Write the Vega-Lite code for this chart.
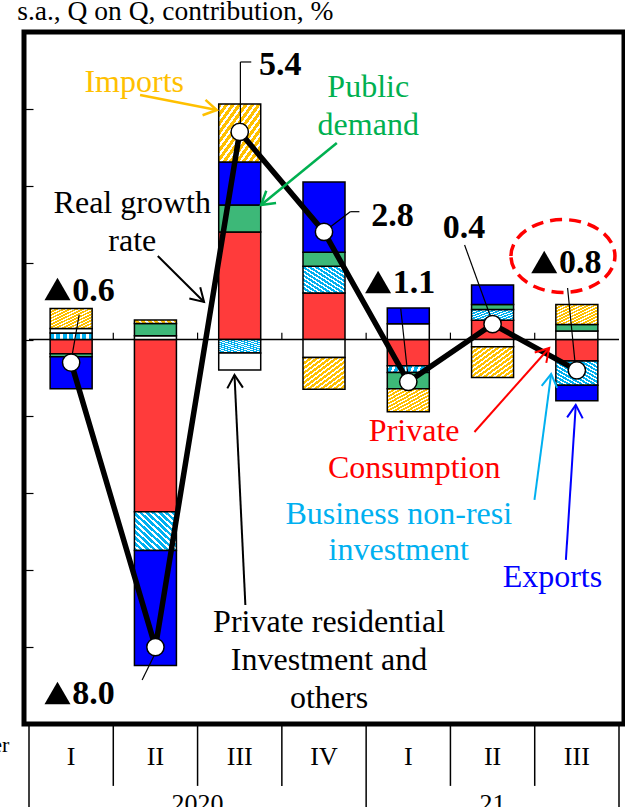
{
"$schema":"https://vega.github.io/schema/vega-lite/v6.json",
"width":600,"height":692,
"autosize":{"type":"none"},
"padding":{"left":24,"top":32,"right":1,"bottom":83},
"background":"white",
"config":{"view":{"stroke":"black","strokeWidth":5},"text":{"font":"Liberation Serif"}},
"datasets":{
"contrib":[
{"n":1,"c":"Consumption","v":-0.37},{"n":1,"c":"Business","v":0.17},{"n":1,"c":"Residential","v":0.12},{"n":1,"c":"Public","v":-0.08},{"n":1,"c":"Exports","v":-0.83},{"n":1,"c":"Imports","v":0.52},
{"n":2,"c":"Consumption","v":-4.48},{"n":2,"c":"Business","v":-1.01},{"n":2,"c":"Residential","v":0.1},{"n":2,"c":"Public","v":0.32},{"n":2,"c":"Exports","v":-2.99},{"n":2,"c":"Imports","v":0.09},
{"n":3,"c":"Consumption","v":2.8},{"n":3,"c":"Business","v":-0.35},{"n":3,"c":"Residential","v":-0.44},{"n":3,"c":"Public","v":0.7},{"n":3,"c":"Exports","v":1.12},{"n":3,"c":"Imports","v":1.51},
{"n":4,"c":"Consumption","v":1.21},{"n":4,"c":"Business","v":0.7},{"n":4,"c":"Residential","v":-0.47},{"n":4,"c":"Public","v":0.36},{"n":4,"c":"Exports","v":1.83},{"n":4,"c":"Imports","v":-0.82},
{"n":5,"c":"Consumption","v":-0.68},{"n":5,"c":"Business","v":-0.18},{"n":5,"c":"Residential","v":0.41},{"n":5,"c":"Public","v":-0.42},{"n":5,"c":"Exports","v":0.41},{"n":5,"c":"Imports","v":-0.6},
{"n":6,"c":"Consumption","v":0.5},{"n":6,"c":"Business","v":0.28},{"n":6,"c":"Residential","v":-0.19},{"n":6,"c":"Public","v":0.13},{"n":6,"c":"Exports","v":0.51},{"n":6,"c":"Imports","v":-0.8},
{"n":7,"c":"Consumption","v":-0.56},{"n":7,"c":"Business","v":-0.63},{"n":7,"c":"Residential","v":0.22},{"n":7,"c":"Public","v":0.17},{"n":7,"c":"Exports","v":-0.4},{"n":7,"c":"Imports","v":0.52}
],
"growth":[
{"n":1,"q":"I","g":-0.6},{"n":2,"q":"II","g":-8.0},{"n":3,"q":"III","g":5.4},{"n":4,"q":"IV","g":2.8},{"n":5,"q":"I","g":-1.1},{"n":6,"q":"II","g":0.4},{"n":7,"q":"III","g":-0.8}
]
},
"layer":[
{"data":{"name":"growth"},"transform":[{"calculate":"datum.n+0.5","as":"b"}],
 "mark":{"type":"rule","stroke":"black","strokeWidth":1.5},
 "encoding":{"x":{"field":"b","type":"quantitative","scale":{"domain":[0.5,7.5],"nice":false,"zero":false},"axis":null},
  "y":{"datum":-10,"type":"quantitative","scale":{"domain":[-10,8],"nice":false,"zero":false},"axis":{"orient":"left","offset":-9,"tickSize":9,"labels":false,"domain":false,"grid":false,"values":[-8,-6,-4,-2,0,2,4,6],"tickColor":"black","tickWidth":1.2,"title":null}},
  "y2":{"datum":-11.61}}},
{"data":{"name":"growth"},"transform":[{"calculate":"datum.n+0.5","as":"b"},{"filter":"datum.n==4||datum.n==7"}],
 "mark":{"type":"rule","stroke":"black","strokeWidth":1.5},
 "encoding":{"x":{"field":"b","type":"quantitative"},"y":{"datum":-11.61,"type":"quantitative"},"y2":{"datum":-12.6}}},
{"data":{"values":[{}]},"mark":{"type":"rule","stroke":"black","strokeWidth":1.5},
 "encoding":{"x":{"datum":0.5,"type":"quantitative"},"y":{"datum":-10,"type":"quantitative"},"y2":{"datum":-12.6}}},
{"data":{"values":[{}]},"mark":{"type":"rule","stroke":"black","strokeWidth":1.5},
 "encoding":{"x":{"datum":0.5,"type":"quantitative"},"x2":{"datum":7.5},"y":{"datum":0,"type":"quantitative"}}},
{"data":{"name":"growth"},"transform":[{"calculate":"datum.n+0.5","as":"b"},{"filter":"datum.n<7"}],
 "mark":{"type":"rule","stroke":"black","strokeWidth":1.2},
 "encoding":{"x":{"field":"b","type":"quantitative"},"y":{"datum":0,"type":"quantitative"},"y2":{"datum":0.18}}},
{"data":{"name":"contrib"},
 "transform":[{"calculate":"indexof(['Consumption','Business','Residential','Public','Exports','Imports'], datum.c)","as":"o"},{"stack":"v","groupby":["n"],"sort":[{"field":"o","order":"ascending"}],"as":["v0","v1"]}],
 "layer":[
 {"transform":[{"filter":"datum.c==='Consumption'"}],"mark":{"type":"bar","width":42,"fill":"#FF3B3B","stroke":"black","strokeWidth":1.5},
  "encoding":{"x":{"field":"n","type":"quantitative"},"y":{"field":"v0","type":"quantitative"},"y2":{"field":"v1"}}},
 {"transform":[{"filter":"datum.c==='Business'"}],"mark":{"type":"bar","width":42,"stroke":"black","strokeWidth":1.5,
  "fill":{"gradient":"linear","x1":0,"y1":1,"x2":1,"y2":0,"stops":[
  {"offset":0,"color":"#00B0F0"},{"offset":0.0462,"color":"#00B0F0"},{"offset":0.0462,"color":"white"},{"offset":0.0769,"color":"white"},
  {"offset":0.0769,"color":"#00B0F0"},{"offset":0.1231,"color":"#00B0F0"},{"offset":0.1231,"color":"white"},{"offset":0.1538,"color":"white"},
  {"offset":0.1538,"color":"#00B0F0"},{"offset":0.2,"color":"#00B0F0"},{"offset":0.2,"color":"white"},{"offset":0.2308,"color":"white"},
  {"offset":0.2308,"color":"#00B0F0"},{"offset":0.2769,"color":"#00B0F0"},{"offset":0.2769,"color":"white"},{"offset":0.3077,"color":"white"},
  {"offset":0.3077,"color":"#00B0F0"},{"offset":0.3538,"color":"#00B0F0"},{"offset":0.3538,"color":"white"},{"offset":0.3846,"color":"white"},
  {"offset":0.3846,"color":"#00B0F0"},{"offset":0.4308,"color":"#00B0F0"},{"offset":0.4308,"color":"white"},{"offset":0.4615,"color":"white"},
  {"offset":0.4615,"color":"#00B0F0"},{"offset":0.5077,"color":"#00B0F0"},{"offset":0.5077,"color":"white"},{"offset":0.5385,"color":"white"},
  {"offset":0.5385,"color":"#00B0F0"},{"offset":0.5846,"color":"#00B0F0"},{"offset":0.5846,"color":"white"},{"offset":0.6154,"color":"white"},
  {"offset":0.6154,"color":"#00B0F0"},{"offset":0.6615,"color":"#00B0F0"},{"offset":0.6615,"color":"white"},{"offset":0.6923,"color":"white"},
  {"offset":0.6923,"color":"#00B0F0"},{"offset":0.7385,"color":"#00B0F0"},{"offset":0.7385,"color":"white"},{"offset":0.7692,"color":"white"},
  {"offset":0.7692,"color":"#00B0F0"},{"offset":0.8154,"color":"#00B0F0"},{"offset":0.8154,"color":"white"},{"offset":0.8462,"color":"white"},
  {"offset":0.8462,"color":"#00B0F0"},{"offset":0.8923,"color":"#00B0F0"},{"offset":0.8923,"color":"white"},{"offset":0.9231,"color":"white"},
  {"offset":0.9231,"color":"#00B0F0"},{"offset":0.9692,"color":"#00B0F0"},{"offset":0.9692,"color":"white"},{"offset":1,"color":"white"}]}},
  "encoding":{"x":{"field":"n","type":"quantitative"},"y":{"field":"v0","type":"quantitative"},"y2":{"field":"v1"}}},
 {"transform":[{"filter":"datum.c==='Residential'"}],"mark":{"type":"bar","width":42,"fill":"white","stroke":"black","strokeWidth":1.5},
  "encoding":{"x":{"field":"n","type":"quantitative"},"y":{"field":"v0","type":"quantitative"},"y2":{"field":"v1"}}},
 {"transform":[{"filter":"datum.c==='Public'"}],"mark":{"type":"bar","width":42,"fill":"#3DB878","stroke":"black","strokeWidth":1.5},
  "encoding":{"x":{"field":"n","type":"quantitative"},"y":{"field":"v0","type":"quantitative"},"y2":{"field":"v1"}}},
 {"transform":[{"filter":"datum.c==='Exports'"}],"mark":{"type":"bar","width":42,"fill":"#0000FF","stroke":"black","strokeWidth":1.5},
  "encoding":{"x":{"field":"n","type":"quantitative"},"y":{"field":"v0","type":"quantitative"},"y2":{"field":"v1"}}},
 {"transform":[{"filter":"datum.c==='Imports'"}],"mark":{"type":"bar","width":42,"stroke":"black","strokeWidth":1.5,
  "fill":{"gradient":"linear","x1":0,"y1":0,"x2":1,"y2":1,"stops":[
  {"offset":0,"color":"#FFC000"},{"offset":0.0462,"color":"#FFC000"},{"offset":0.0462,"color":"white"},{"offset":0.0769,"color":"white"},
  {"offset":0.0769,"color":"#FFC000"},{"offset":0.1231,"color":"#FFC000"},{"offset":0.1231,"color":"white"},{"offset":0.1538,"color":"white"},
  {"offset":0.1538,"color":"#FFC000"},{"offset":0.2,"color":"#FFC000"},{"offset":0.2,"color":"white"},{"offset":0.2308,"color":"white"},
  {"offset":0.2308,"color":"#FFC000"},{"offset":0.2769,"color":"#FFC000"},{"offset":0.2769,"color":"white"},{"offset":0.3077,"color":"white"},
  {"offset":0.3077,"color":"#FFC000"},{"offset":0.3538,"color":"#FFC000"},{"offset":0.3538,"color":"white"},{"offset":0.3846,"color":"white"},
  {"offset":0.3846,"color":"#FFC000"},{"offset":0.4308,"color":"#FFC000"},{"offset":0.4308,"color":"white"},{"offset":0.4615,"color":"white"},
  {"offset":0.4615,"color":"#FFC000"},{"offset":0.5077,"color":"#FFC000"},{"offset":0.5077,"color":"white"},{"offset":0.5385,"color":"white"},
  {"offset":0.5385,"color":"#FFC000"},{"offset":0.5846,"color":"#FFC000"},{"offset":0.5846,"color":"white"},{"offset":0.6154,"color":"white"},
  {"offset":0.6154,"color":"#FFC000"},{"offset":0.6615,"color":"#FFC000"},{"offset":0.6615,"color":"white"},{"offset":0.6923,"color":"white"},
  {"offset":0.6923,"color":"#FFC000"},{"offset":0.7385,"color":"#FFC000"},{"offset":0.7385,"color":"white"},{"offset":0.7692,"color":"white"},
  {"offset":0.7692,"color":"#FFC000"},{"offset":0.8154,"color":"#FFC000"},{"offset":0.8154,"color":"white"},{"offset":0.8462,"color":"white"},
  {"offset":0.8462,"color":"#FFC000"},{"offset":0.8923,"color":"#FFC000"},{"offset":0.8923,"color":"white"},{"offset":0.9231,"color":"white"},
  {"offset":0.9231,"color":"#FFC000"},{"offset":0.9692,"color":"#FFC000"},{"offset":0.9692,"color":"white"},{"offset":1,"color":"white"}]}},
  "encoding":{"x":{"field":"n","type":"quantitative"},"y":{"field":"v0","type":"quantitative"},"y2":{"field":"v1"}}}
 ]},
{"data":{"name":"growth"},"mark":{"type":"line","stroke":"black","strokeWidth":5.5},
 "encoding":{"x":{"field":"n","type":"quantitative"},"y":{"field":"g","type":"quantitative"}}},
{"data":{"values":[{}]},"layer":[
 {"mark":{"type":"rule","stroke":"black","strokeWidth":1.2},"encoding":{"x":{"datum":1.002,"type":"quantitative"},"y":{"datum":-0.53,"type":"quantitative"},"x2":{"datum":1.095},"y2":{"datum":0.64}}},
 {"mark":{"type":"rule","stroke":"black","strokeWidth":1.2},"encoding":{"x":{"datum":2.005,"type":"quantitative"},"y":{"datum":-8.127,"type":"quantitative"},"x2":{"datum":1.842},"y2":{"datum":-8.856}}},
 {"mark":{"type":"rule","stroke":"black","strokeWidth":1.2},"encoding":{"x":{"datum":3.008,"type":"quantitative"},"y":{"datum":5.425,"type":"quantitative"},"x2":{"datum":3.008},"y2":{"datum":7.22}}},
 {"mark":{"type":"rule","stroke":"black","strokeWidth":1.2},"encoding":{"x":{"datum":3.008,"type":"quantitative"},"y":{"datum":7.22,"type":"quantitative"},"x2":{"datum":3.137},"y2":{"datum":7.22}}},
 {"mark":{"type":"rule","stroke":"black","strokeWidth":1.2},"encoding":{"x":{"datum":4.012,"type":"quantitative"},"y":{"datum":2.824,"type":"quantitative"},"x2":{"datum":4.311},"y2":{"datum":3.326}}},
 {"mark":{"type":"rule","stroke":"black","strokeWidth":1.2},"encoding":{"x":{"datum":4.311,"type":"quantitative"},"y":{"datum":3.326,"type":"quantitative"},"x2":{"datum":4.42},"y2":{"datum":3.326}}},
 {"mark":{"type":"rule","stroke":"black","strokeWidth":1.2},"encoding":{"x":{"datum":5.003,"type":"quantitative"},"y":{"datum":-1.096,"type":"quantitative"},"x2":{"datum":4.91},"y2":{"datum":0.813}}},
 {"mark":{"type":"rule","stroke":"black","strokeWidth":1.2},"encoding":{"x":{"datum":6.007,"type":"quantitative"},"y":{"datum":0.405,"type":"quantitative"},"x2":{"datum":5.668},"y2":{"datum":2.46}}},
 {"mark":{"type":"rule","stroke":"black","strokeWidth":1.2},"encoding":{"x":{"datum":6.987,"type":"quantitative"},"y":{"datum":-0.79,"type":"quantitative"},"x2":{"datum":6.89},"y2":{"datum":1.34}}}
]},
{"data":{"name":"growth"},"mark":{"type":"point","shape":"circle","filled":true,"fill":"white","stroke":"black","strokeWidth":1.5,"size":300,"opacity":1},
 "encoding":{"x":{"field":"n","type":"quantitative"},"y":{"field":"g","type":"quantitative"}}},
{"data":{"name":"growth"},"mark":{"type":"text","fontSize":26,"align":"center","baseline":"alphabetic","color":"black"},
 "encoding":{"x":{"field":"n","type":"quantitative"},"y":{"datum":-11.07,"type":"quantitative"},"text":{"field":"q"}}},
{"data":{"values":[{}]},"layer":[
 {"mark":{"type":"text","text":"2020","fontSize":26,"align":"center","baseline":"alphabetic","color":"black"},"encoding":{"x":{"datum":2.5,"type":"quantitative"},"y":{"datum":-12.29,"type":"quantitative"}}},
 {"mark":{"type":"text","text":"21","fontSize":26,"align":"center","baseline":"alphabetic","color":"black"},"encoding":{"x":{"datum":6.0,"type":"quantitative"},"y":{"datum":-12.29,"type":"quantitative"}}},
 {"mark":{"type":"text","text":"Quarter","fontSize":22,"align":"right","baseline":"alphabetic","color":"black"},"encoding":{"x":{"datum":0.267,"type":"quantitative"},"y":{"datum":-10.73,"type":"quantitative"}}},
 {"mark":{"type":"text","text":"s.a., Q on Q, contribution, %","fontSize":27.5,"align":"left","baseline":"alphabetic","color":"black"},"encoding":{"x":{"datum":0.36,"type":"quantitative"},"y":{"datum":8.31,"type":"quantitative"}}},
 {"mark":{"type":"text","text":"Imports","fontSize":32,"align":"center","baseline":"alphabetic","color":"#FFC000"},"encoding":{"x":{"datum":1.748,"type":"quantitative"},"y":{"datum":6.44,"type":"quantitative"}}},
 {"mark":{"type":"text","text":["Public","demand"],"lineHeight":38,"fontSize":32,"align":"center","baseline":"alphabetic","color":"#00B050"},"encoding":{"x":{"datum":4.525,"type":"quantitative"},"y":{"datum":6.31,"type":"quantitative"}}},
 {"mark":{"type":"text","text":["Real growth","rate"],"lineHeight":38,"fontSize":32,"align":"center","baseline":"alphabetic","color":"black"},"encoding":{"x":{"datum":1.725,"type":"quantitative"},"y":{"datum":3.29,"type":"quantitative"}}},
 {"mark":{"type":"text","text":["Private","Consumption"],"lineHeight":37,"fontSize":32,"align":"center","baseline":"alphabetic","color":"#FF0000"},"encoding":{"x":{"datum":5.07,"type":"quantitative"},"y":{"datum":-2.64,"type":"quantitative"}}},
 {"mark":{"type":"text","text":["Business non-resi","investment"],"lineHeight":36,"fontSize":32,"align":"center","baseline":"alphabetic","color":"#00B0F0"},"encoding":{"x":{"datum":4.887,"type":"quantitative"},"y":{"datum":-4.8,"type":"quantitative"}}},
 {"mark":{"type":"text","text":"Exports","fontSize":32,"align":"center","baseline":"alphabetic","color":"#0000FF"},"encoding":{"x":{"datum":6.71,"type":"quantitative"},"y":{"datum":-6.44,"type":"quantitative"}}},
 {"mark":{"type":"text","text":["Private residential","Investment and","others"],"lineHeight":38,"fontSize":32,"align":"center","baseline":"alphabetic","color":"black"},"encoding":{"x":{"datum":4.06,"type":"quantitative"},"y":{"datum":-7.61,"type":"quantitative"}}},
 {"mark":{"type":"point","shape":"triangle-up","size":676,"filled":true,"fill":"black","strokeWidth":0,"opacity":1},"encoding":{"x":{"datum":0.838,"type":"quantitative"},"y":{"datum":1.315,"type":"quantitative"}}},
 {"mark":{"type":"point","shape":"triangle-up","size":676,"filled":true,"fill":"black","strokeWidth":0,"opacity":1},"encoding":{"x":{"datum":0.838,"type":"quantitative"},"y":{"datum":-9.194,"type":"quantitative"}}},
 {"mark":{"type":"point","shape":"triangle-up","size":676,"filled":true,"fill":"black","strokeWidth":0,"opacity":1},"encoding":{"x":{"datum":4.642,"type":"quantitative"},"y":{"datum":1.497,"type":"quantitative"}}},
 {"mark":{"type":"point","shape":"triangle-up","size":676,"filled":true,"fill":"black","strokeWidth":0,"opacity":1},"encoding":{"x":{"datum":6.613,"type":"quantitative"},"y":{"datum":2.017,"type":"quantitative"}}},
 {"mark":{"type":"text","text":"0.6","fontSize":34,"fontWeight":"bold","align":"left","baseline":"alphabetic","color":"black"},"encoding":{"x":{"datum":1.013,"type":"quantitative"},"y":{"datum":1.003,"type":"quantitative"}}},
 {"mark":{"type":"text","text":"8.0","fontSize":34,"fontWeight":"bold","align":"left","baseline":"alphabetic","color":"black"},"encoding":{"x":{"datum":1.013,"type":"quantitative"},"y":{"datum":-9.48,"type":"quantitative"}}},
 {"mark":{"type":"text","text":"5.4","fontSize":34,"fontWeight":"bold","align":"left","baseline":"alphabetic","color":"black"},"encoding":{"x":{"datum":3.23,"type":"quantitative"},"y":{"datum":6.88,"type":"quantitative"}}},
 {"mark":{"type":"text","text":"2.8","fontSize":34,"fontWeight":"bold","align":"left","baseline":"alphabetic","color":"black"},"encoding":{"x":{"datum":4.56,"type":"quantitative"},"y":{"datum":2.95,"type":"quantitative"}}},
 {"mark":{"type":"text","text":"1.1","fontSize":34,"fontWeight":"bold","align":"left","baseline":"alphabetic","color":"black"},"encoding":{"x":{"datum":4.817,"type":"quantitative"},"y":{"datum":1.21,"type":"quantitative"}}},
 {"mark":{"type":"text","text":"0.4","fontSize":34,"fontWeight":"bold","align":"left","baseline":"alphabetic","color":"black"},"encoding":{"x":{"datum":5.41,"type":"quantitative"},"y":{"datum":2.64,"type":"quantitative"}}},
 {"mark":{"type":"text","text":"0.8","fontSize":34,"fontWeight":"bold","align":"left","baseline":"alphabetic","color":"black"},"encoding":{"x":{"datum":6.788,"type":"quantitative"},"y":{"datum":1.73,"type":"quantitative"}}},
 {"mark":{"type":"point","shape":"M-1,0C-1,-0.386,-0.552,-0.7,0,-0.7C0.552,-0.7,1,-0.386,1,0C1,0.386,0.552,0.7,0,0.7C-0.552,0.7,-1,0.386,-1,0Z","size":10816,"filled":false,"stroke":"#FF0000","strokeWidth":3.5,"strokeDash":[12,7],"opacity":1},"encoding":{"x":{"datum":6.835,"type":"quantitative"},"y":{"datum":2.173,"type":"quantitative"}}},
 {"mark":{"type":"rule","stroke":"#FFC000","strokeWidth":2.5},"encoding":{"x":{"datum":1.818,"type":"quantitative"},"y":{"datum":6.361,"type":"quantitative"},"x2":{"datum":2.728},"y2":{"datum":5.971}}},
 {"mark":{"type":"point","shape":"M-1,-0.6L0,0L-1,0.6","size":676,"filled":false,"stroke":"#FFC000","strokeWidth":2.5,"angle":10.9,"opacity":1},"encoding":{"x":{"datum":2.728,"type":"quantitative"},"y":{"datum":5.971,"type":"quantitative"}}},
 {"mark":{"type":"rule","stroke":"#00B050","strokeWidth":2.5},"encoding":{"x":{"datum":4.152,"type":"quantitative"},"y":{"datum":5.113,"type":"quantitative"},"x2":{"datum":3.253},"y2":{"datum":3.5}}},
 {"mark":{"type":"point","shape":"M-1,-0.6L0,0L-1,0.6","size":676,"filled":false,"stroke":"#00B050","strokeWidth":2.5,"angle":141.2,"opacity":1},"encoding":{"x":{"datum":3.253,"type":"quantitative"},"y":{"datum":3.5,"type":"quantitative"}}},
 {"mark":{"type":"rule","stroke":"black","strokeWidth":2},"encoding":{"x":{"datum":2.028,"type":"quantitative"},"y":{"datum":2.173,"type":"quantitative"},"x2":{"datum":2.577},"y2":{"datum":0.977}}},
 {"mark":{"type":"point","shape":"M-1,-0.6L0,0L-1,0.6","size":676,"filled":false,"stroke":"black","strokeWidth":2,"angle":44.4,"opacity":1},"encoding":{"x":{"datum":2.577,"type":"quantitative"},"y":{"datum":0.977,"type":"quantitative"}}},
 {"mark":{"type":"rule","stroke":"black","strokeWidth":2},"encoding":{"x":{"datum":3.067,"type":"quantitative"},"y":{"datum":-6.905,"type":"quantitative"},"x2":{"datum":2.938},"y2":{"datum":-0.922}}},
 {"mark":{"type":"point","shape":"M-1,-0.6L0,0L-1,0.6","size":676,"filled":false,"stroke":"black","strokeWidth":2,"angle":-92.7,"opacity":1},"encoding":{"x":{"datum":2.938,"type":"quantitative"},"y":{"datum":-0.922,"type":"quantitative"}}},
 {"mark":{"type":"rule","stroke":"#FF0000","strokeWidth":2},"encoding":{"x":{"datum":5.785,"type":"quantitative"},"y":{"datum":-2.405,"type":"quantitative"},"x2":{"datum":6.672},"y2":{"datum":-0.22}}},
 {"mark":{"type":"point","shape":"M-1,-0.6L0,0L-1,0.6","size":676,"filled":false,"stroke":"#FF0000","strokeWidth":2,"angle":-47.9,"opacity":1},"encoding":{"x":{"datum":6.672,"type":"quantitative"},"y":{"datum":-0.22,"type":"quantitative"}}},
 {"mark":{"type":"rule","stroke":"#00B0F0","strokeWidth":2},"encoding":{"x":{"datum":6.497,"type":"quantitative"},"y":{"datum":-4.17,"type":"quantitative"},"x2":{"datum":6.695},"y2":{"datum":-0.896}}},
 {"mark":{"type":"point","shape":"M-1,-0.6L0,0L-1,0.6","size":676,"filled":false,"stroke":"#00B0F0","strokeWidth":2,"angle":-82.3,"opacity":1},"encoding":{"x":{"datum":6.695,"type":"quantitative"},"y":{"datum":-0.896,"type":"quantitative"}}},
 {"mark":{"type":"rule","stroke":"#0000FF","strokeWidth":2},"encoding":{"x":{"datum":6.87,"type":"quantitative"},"y":{"datum":-5.73,"type":"quantitative"},"x2":{"datum":6.987},"y2":{"datum":-1.7}}},
 {"mark":{"type":"point","shape":"M-1,-0.6L0,0L-1,0.6","size":676,"filled":false,"stroke":"#0000FF","strokeWidth":2,"angle":-86.3,"opacity":1},"encoding":{"x":{"datum":6.987,"type":"quantitative"},"y":{"datum":-1.7,"type":"quantitative"}}}
]}
]
}
